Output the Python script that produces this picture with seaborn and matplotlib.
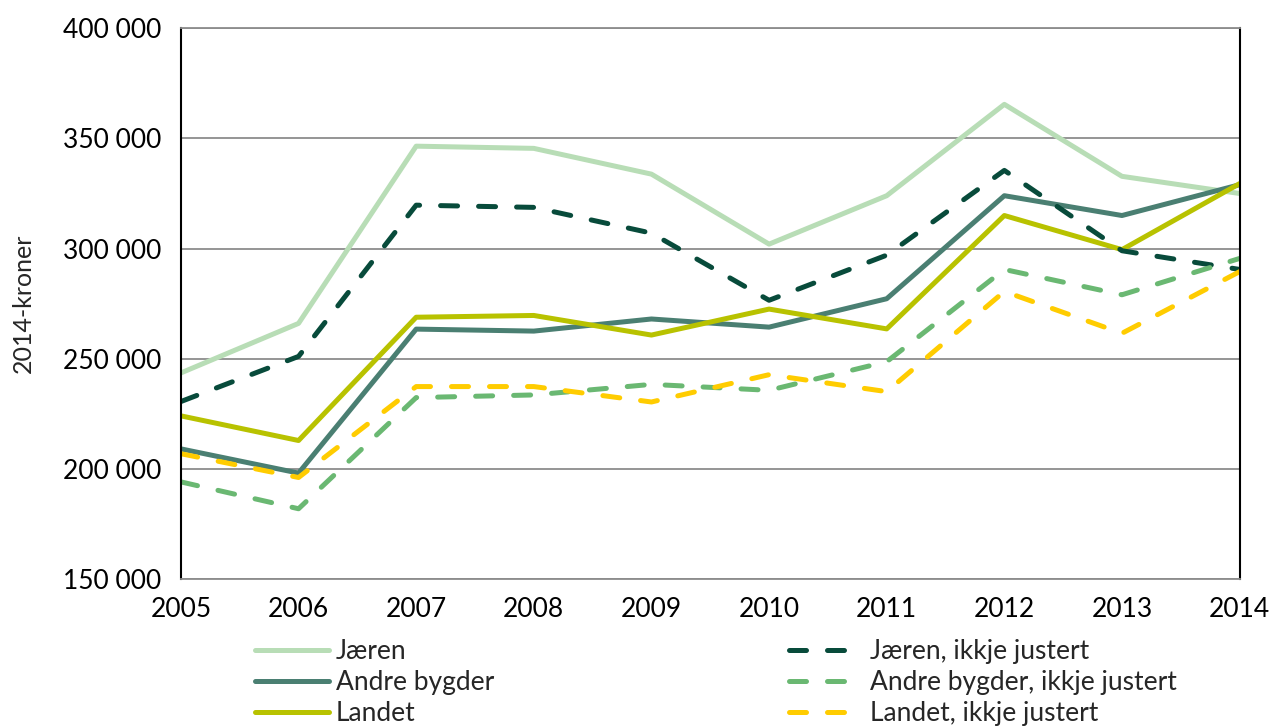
import seaborn as sns
import matplotlib.pyplot as plt
import pandas as pd

years = [2005, 2006, 2007, 2008, 2009, 2010, 2011, 2012, 2013, 2014]

jaeren = [243500, 266000, 346500, 345500, 333800, 302000, 324000, 365500, 332800, 325000]
jaeren_ikkje = [230500, 251000, 319700, 318700, 307000, 276500, 297000, 335500, 299000, 290500]
andre = [209000, 198000, 263400, 262500, 268000, 264300, 277200, 324000, 315000, 329000]
andre_ikkje = [194000, 181800, 232300, 233500, 238300, 235600, 248600, 290500, 279000, 295500]
landet = [224000, 212800, 268800, 269600, 260700, 272500, 263500, 315000, 299500, 329500]
landet_ikkje = [206800, 196000, 237300, 237300, 230300, 242700, 235000, 280500, 261500, 289500]

series = [
    ("Jæren", jaeren, "#b8ddb6", False),
    ("Jæren, ikkje justert", jaeren_ikkje, "#084b3b", True),
    ("Andre bygder", andre, "#4a7f72", False),
    ("Andre bygder, ikkje justert", andre_ikkje, "#6ab872", True),
    ("Landet", landet, "#b8c200", False),
    ("Landet, ikkje justert", landet_ikkje, "#ffcc00", True),
]

sns.set_style("white")
plt.rcParams['font.family'] = ['Lato', 'DejaVu Sans']

fig, ax = plt.subplots(figsize=(12.74, 7.28), dpi=100)
fig.subplots_adjust(left=0.142, right=0.973, top=0.961, bottom=0.205)

# solid lines first, dashed on top
handles = {}
for i in [0, 2, 4, 1, 3, 5]:
    name, vals, col, dashed = series[i]
    df = pd.DataFrame({"year": years, "value": vals})
    sns.lineplot(data=df, x="year", y="value", ax=ax, color=col, linewidth=3.6,
                 label=name)
    line = ax.lines[-1]
    if dashed:
        line.set_dashes((3.4, 4.2))
        line.set_dash_capstyle("round")
    handles[name] = line

ax.set_xlim(2005, 2014)
ax.set_ylim(150000, 400000)
ax.set_xticks(years)
ax.set_yticks(range(150000, 400001, 50000))
ax.set_yticklabels([f"{v // 1000} 000" for v in range(150000, 400001, 50000)])
ax.yaxis.grid(True, color="#8c8c8c", linewidth=1.3)
ax.set_axisbelow(True)
ax.tick_params(axis="y", labelsize=19, colors="black", length=0, pad=14)
ax.tick_params(axis="x", labelsize=19, length=5, color="#8c8c8c", labelcolor="black",
               direction="out", pad=8)
ax.set_xlabel("")
ax.set_ylabel("2014-kroner", fontsize=18)
ax.yaxis.set_label_coords(-0.138, 0.5)

for s in ["left", "right"]:
    ax.spines[s].set_color("black")
    ax.spines[s].set_linewidth(1.5)
for s in ["top", "bottom"]:
    ax.spines[s].set_color("#8c8c8c")
    ax.spines[s].set_linewidth(1.3)

# legend column-wise: solids left, dashed right
names = ["Jæren", "Andre bygder", "Landet",
         "Jæren, ikkje justert", "Andre bygder, ikkje justert", "Landet, ikkje justert"]
leg = ax.legend([handles[n] for n in names], names, ncol=2, loc="upper left",
                bbox_to_anchor=(0.07, -0.11), frameon=False, fontsize=19,
                handlelength=2.8, handletextpad=0.25, columnspacing=11.2,
                labelspacing=0.22, borderaxespad=0, borderpad=0)

fig.savefig("out.png", dpi=100)
